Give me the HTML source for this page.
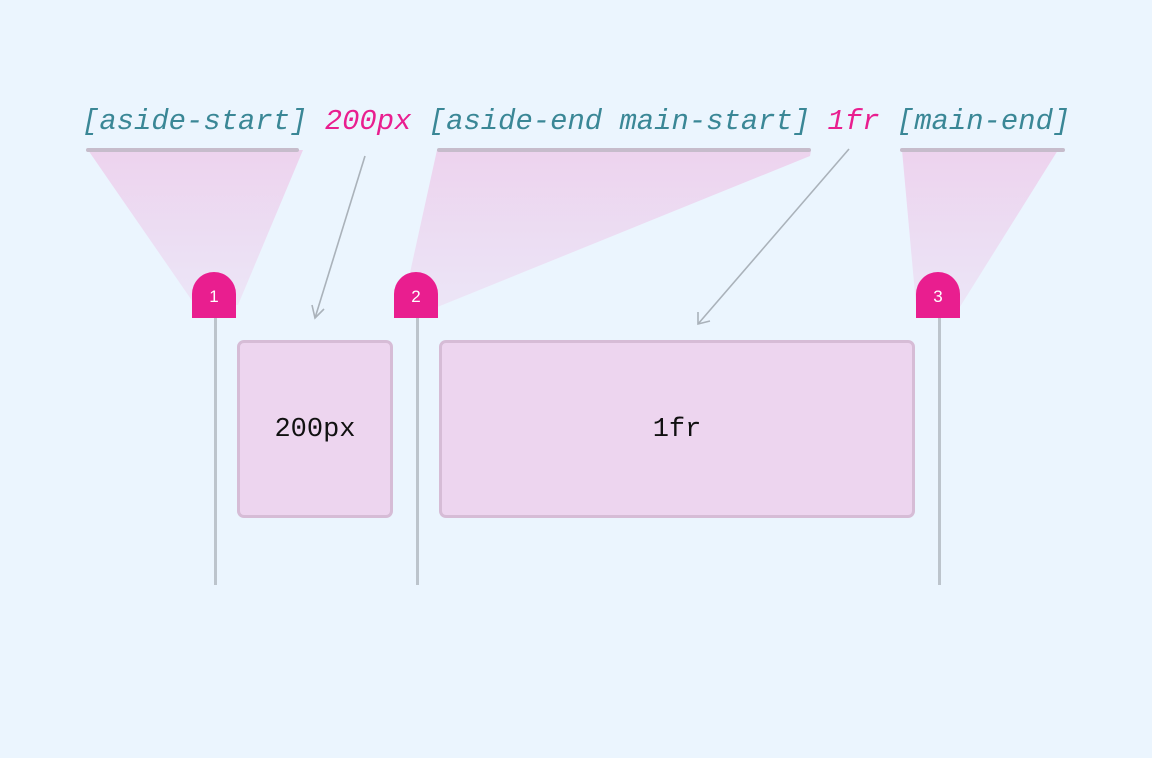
<!DOCTYPE html>
<html><head><meta charset="utf-8"><style>
body{margin:0;background:#ebf5fe;}
.w{position:relative;width:1152px;height:758px;overflow:hidden;background:#ebf5fe;}
.t{position:absolute;left:82px;top:105px;font:italic 28.9px "Liberation Mono",monospace;color:#3a8796;white-space:pre;letter-spacing:0}
.p{color:#e91e8f}
.box{position:absolute;top:340px;height:170px;background:#edd5ef;border:3px solid #d6bcd6;border-radius:7px;box-sizing:content-box;font:27px "Liberation Mono",monospace;color:#111;display:flex;align-items:center;justify-content:center;padding-top:2px}
.pin{position:absolute;top:272px;width:44px;height:46px;background:#e91e8f;border-radius:22px 22px 0 0;color:#fff;font:17px "Liberation Sans",sans-serif;text-align:center;line-height:50px}
.ln{position:absolute;top:318px;width:3px;height:267px;background:#bcc4cc}
</style></head><body><div class="w">
<svg width="1152" height="758" style="position:absolute;left:0;top:0">
<defs><linearGradient id="g" x1="0" y1="0" x2="0" y2="1"><stop offset="0" stop-color="#edd3ee"/><stop offset="1" stop-color="#edd3ee" stop-opacity="0.45"/></linearGradient></defs>
<polygon points="88,150 303,150 238,305 195,305" fill="url(#g)"/>
<polygon points="437,150 811,150 810,156 430,310 404,300" fill="url(#g)"/>
<polygon points="902,150 1058,150 958,310 916,305" fill="url(#g)"/>
<g stroke="#c6bccb" stroke-width="4" stroke-linecap="round">
<line x1="88" y1="150" x2="297" y2="150"/><line x1="439" y1="150" x2="809" y2="150"/><line x1="902" y1="150" x2="1063" y2="150"/></g>
<g stroke="#aab2ba" stroke-width="1.6" fill="none">
<line x1="365" y1="156" x2="315" y2="318"/><polyline points="312,305 315,318 324,309"/>
<line x1="849" y1="149" x2="698" y2="324"/><polyline points="698,312 698,324 710,321"/></g>
</svg>
<div class="t">[aside-start] <span class="p">200px</span> [aside-end main-start] <span class="p">1fr</span> [main-end]</div>
<div class="box" style="left:237px;width:150px">200px</div>
<div class="box" style="left:439px;width:470px">1fr</div>
<div class="ln" style="left:214px"></div><div class="ln" style="left:416px"></div><div class="ln" style="left:938px"></div>
<div class="pin" style="left:192px">1</div><div class="pin" style="left:394px">2</div><div class="pin" style="left:916px">3</div>
</div></body></html>
